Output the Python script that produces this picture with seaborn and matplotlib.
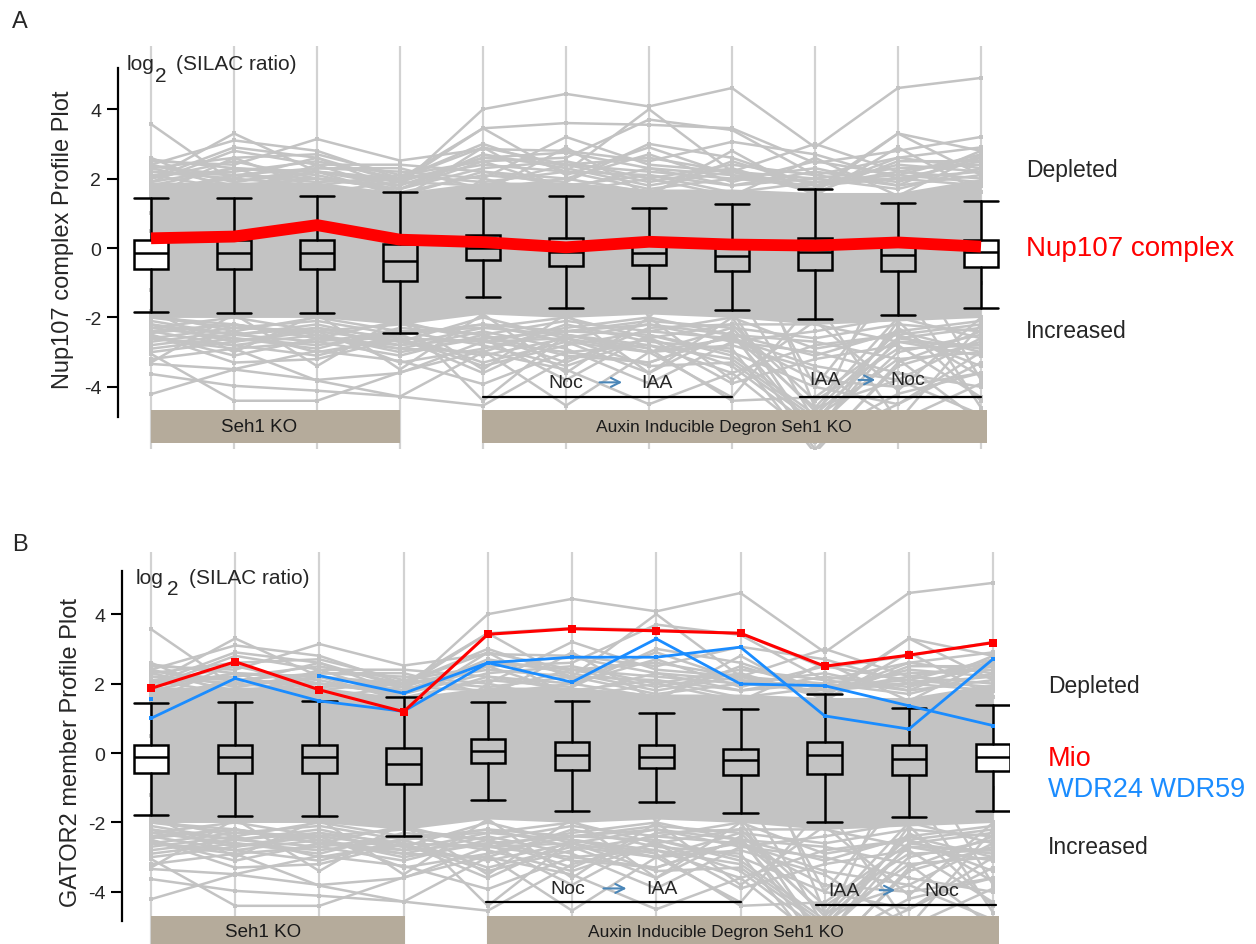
import numpy as np
import pandas as pd
import matplotlib
matplotlib.use("Agg")
import matplotlib.pyplot as plt
import seaborn as sns
from matplotlib.patches import Rectangle

# ---------------- data ----------------
conditions = ["Seh1 KO 1", "Seh1 KO 2", "Seh1 KO 3", "Seh1 KO 4",
              "AID Noc 1", "AID Noc 2", "AID IAA 1", "AID IAA 2",
              "AID IAA/Noc 1", "AID IAA/Noc 2", "AID IAA/Noc 3"]
cols = np.arange(len(conditions))

# dense core of the background profiles (envelope per condition)
band_hi = [1.9, 1.9, 1.9, 1.6, 1.9, 1.9, 1.7, 1.7, 1.6, 1.6, 2.0]
band_lo = [-2.0, -2.0, -2.0, -2.2, -1.9, -2.0, -1.9, -2.0, -2.2, -2.1, -2.0]

upper_profiles = [
    [2.2, 2.1, 2.0, 1.8, 4.0, 4.44, 4.08, 4.61, 2.9, 4.61, 4.9],
    [3.57, 1.9, 2.2, 2.0, 3.45, 3.6, 3.55, 3.45, 2.45, 2.8, 3.2],
    [2.0, 3.3, 2.2, 1.9, 2.6, 2.4, 2.2, 2.0, 1.8, 2.2, 2.6],
    [2.5, 2.4, 3.14, 2.52, 2.85, 2.8, 2.5, 3.06, 2.7, 2.0, 2.2],
    [2.4, 3.1, 2.8, 2.0, 3.0, 2.2, 4.0, 2.2, 1.6, 3.3, 2.8],
    [2.3, 2.6, 2.7, 2.1, 2.5, 2.6, 3.7, 3.4, 2.1, 2.6, 2.9],
    [2.1, 2.2, 2.5, 2.0, 2.9, 2.4, 2.6, 2.2, 3.0, 2.2, 2.0],
    [2.55, 2.3, 2.2, 1.8, 2.6, 2.75, 2.3, 2.1, 1.7, 3.3, 2.1],
    [1.9, 2.8, 2.4, 2.4, 2.2, 2.0, 2.7, 1.9, 2.5, 2.1, 2.7],
    [2.2, 2.0, 2.6, 1.9, 3.45, 2.1, 2.9, 2.1, 1.9, 2.0, 2.5],
    [2.0, 2.5, 2.0, 1.7, 2.3, 2.5, 2.0, 2.4, 2.1, 1.8, 2.8],
    [2.4, 1.9, 2.3, 2.2, 2.0, 3.2, 2.4, 2.2, 2.0, 2.3, 2.4],
    [1.8, 2.3, 2.1, 1.6, 2.1, 1.9, 3.0, 2.6, 1.8, 2.4, 2.2],
    [2.35, 2.1, 1.9, 2.0, 2.4, 2.2, 2.1, 1.8, 2.2, 1.9, 2.6],
    [2.0, 2.9, 2.6, 1.7, 2.7, 2.3, 1.8, 2.2, 1.7, 2.6, 2.3],
    [1.7, 2.0, 1.8, 2.1, 1.9, 2.2, 1.7, 2.0, 2.3, 1.8, 2.1],
    [2.1, 1.7, 2.2, 1.5, 2.2, 1.8, 2.1, 1.6, 1.9, 2.1, 1.9],
    [1.9, 2.3, 1.6, 1.9, 1.8, 2.4, 1.9, 2.3, 1.6, 2.5, 2.5],
    [2.3, 1.8, 2.0, 1.7, 2.5, 1.7, 2.3, 1.8, 2.0, 1.7, 2.3],
    [1.6, 2.1, 2.3, 2.3, 1.7, 2.0, 1.6, 2.5, 1.8, 2.0, 1.8],
    [1.5, 2.6, 1.7, 1.4, 2.9, 1.6, 2.0, 1.5, 2.6, 1.5, 2.7],
    [2.6, 1.6, 2.4, 1.6, 1.6, 2.9, 1.5, 2.8, 1.5, 2.9, 1.6],
]
lower_profiles = [
    [-4.21, -3.5, -3.8, -3.6, -2.7, -3.0, -2.8, -3.2, -4.9, -3.2, -3.0],
    [-3.63, -3.97, -4.11, -4.28, -3.0, -3.5, -4.5, -3.6, -5.5, -4.2, -3.6],
    [-3.34, -3.49, -2.96, -3.25, -3.92, -3.0, -3.3, -2.5, -4.6, -3.8, -4.8],
    [-3.05, -4.4, -4.4, -3.58, -2.96, -4.54, -3.0, -2.8, -3.5, -5.0, -3.9],
    [-2.6, -2.9, -3.82, -4.28, -4.54, -3.2, -2.6, -3.9, -3.2, -2.8, -4.3],
    [-2.9, -2.6, -2.8, -2.5, -3.3, -2.7, -3.6, -2.4, -5.8, -3.4, -2.7],
    [-2.4, -2.8, -2.5, -3.0, -2.6, -3.8, -2.5, -3.0, -4.0, -4.5, -3.3],
    [-2.7, -2.4, -3.0, -2.6, -3.6, -2.5, -2.9, -4.4, -4.3, -2.6, -2.9],
    [-2.5, -3.1, -2.6, -2.9, -2.4, -2.9, -3.9, -2.7, -3.0, -3.6, -4.0],
    [-2.8, -2.5, -2.7, -2.4, -2.8, -3.4, -2.6, -3.4, -5.2, -3.0, -2.5],
    [-3.0, -2.7, -2.4, -2.7, -3.1, -2.6, -3.0, -2.6, -3.8, -4.0, -3.6],
    [-2.3, -2.6, -2.9, -2.3, -2.5, -3.1, -3.3, -2.5, -2.7, -3.2, -5.0],
    [-2.6, -2.3, -2.4, -3.3, -2.9, -2.4, -2.5, -3.1, -4.8, -2.7, -3.1],
    [-2.2, -2.7, -2.3, -2.6, -3.4, -2.8, -2.4, -2.6, -3.4, -3.8, -2.6],
    [-2.45, -2.2, -2.6, -2.8, -2.3, -2.5, -2.8, -3.6, -2.8, -2.5, -3.4],
    [-2.0, -2.3, -2.1, -2.5, -2.2, -2.4, -2.1, -2.3, -2.6, -2.2, -2.4],
    [-2.3, -2.0, -2.4, -2.2, -2.5, -2.1, -2.4, -2.0, -2.9, -2.5, -2.2],
    [-2.1, -2.5, -2.2, -2.7, -2.0, -2.6, -2.2, -2.7, -2.4, -2.0, -2.6],
    [-2.4, -2.2, -2.6, -2.1, -2.7, -2.3, -2.0, -2.5, -3.1, -2.4, -2.1],
    [-1.9, -2.4, -2.0, -2.4, -2.3, -2.0, -2.6, -2.2, -2.2, -2.7, -2.8],
    [-2.2, -2.5, -2.3, -2.8, -2.6, -2.4, -2.2, -2.5, -5.3, -2.6, -2.3],
    [-2.6, -2.8, -3.1, -2.5, -2.2, -2.7, -3.0, -2.3, -4.7, -2.4, -3.0],
    [-2.0, -2.2, -2.5, -2.9, -3.0, -2.2, -2.7, -2.9, -5.9, -3.3, -2.4],
    [-3.2, -2.9, -2.7, -3.1, -2.5, -3.3, -2.3, -2.2, -4.4, -2.9, -2.8],
    [-2.5, -3.3, -3.2, -2.6, -2.7, -2.6, -3.4, -3.3, -5.0, -2.3, -3.7],
    [-1.8, -3.0, -1.9, -3.5, -1.9, -3.6, -2.0, -3.8, -2.1, -4.1, -2.0],
    [-3.3, -1.9, -3.4, -2.0, -3.5, -1.9, -3.6, -2.0, -5.4, -2.1, -4.4],
]
crossing_profiles = [
    [0.5, 0.2, -0.3, 0.1, 1.2, 0.8, 1.0, 1.4, -4.6, -2.0, -1.0],
    [-0.5, -1.0, 0.2, -0.6, -1.5, -2.0, -1.2, -1.8, -5.6, -4.5, -3.0],
    [1.0, 0.6, 0.8, 0.3, 2.0, 1.5, -2.0, 0.5, -4.0, -1.0, -4.6],
    [-1.2, -0.8, -1.5, -2.0, -4.4, -2.5, -3.0, -4.3, -1.5, -5.0, -2.2],
    [-0.2, 0.4, -0.8, 0.6, -0.4, 0.1, 0.9, -1.0, -5.0, 0.2, -3.8],
]

# box-plot statistics, panel A
a_whislo = [-1.84, -1.87, -1.87, -2.45, -1.40, -1.73, -1.45, -1.78, -2.05, -1.92, -1.73]
a_q1 = [-0.61, -0.61, -0.61, -0.94, -0.34, -0.53, -0.48, -0.65, -0.62, -0.66, -0.56]
a_med = [-0.15, -0.15, -0.15, -0.37, 0.00, -0.12, -0.14, -0.24, -0.11, -0.20, -0.11]
a_q3 = [0.24, 0.24, 0.24, 0.12, 0.38, 0.29, 0.09, 0.02, 0.29, 0.13, 0.22]
a_whishi = [1.43, 1.45, 1.49, 1.62, 1.45, 1.49, 1.15, 1.27, 1.70, 1.29, 1.36]
# box-plot statistics, panel B
b_whislo = [-1.78, -1.81, -1.81, -2.38, -1.35, -1.67, -1.42, -1.73, -2.00, -1.85, -1.68]
b_q1 = [-0.58, -0.58, -0.58, -0.89, -0.30, -0.49, -0.44, -0.62, -0.59, -0.62, -0.51]
b_med = [-0.12, -0.12, -0.12, -0.33, 0.05, -0.06, -0.12, -0.20, -0.07, -0.17, -0.10]
b_q3 = [0.24, 0.24, 0.24, 0.14, 0.40, 0.31, 0.22, 0.12, 0.33, 0.22, 0.26]
b_whishi = [1.45, 1.47, 1.49, 1.62, 1.47, 1.49, 1.16, 1.28, 1.70, 1.31, 1.39]

# highlighted profiles
nup107 = [0.28, 0.33, 0.66, 0.24, 0.17, 0.02, 0.18, 0.10, 0.07, 0.16, 0.04]
mio = [1.86, 2.63, 1.82, 1.19, 3.42, 3.58, 3.52, 3.45, 2.50, 2.82, 3.18]
wdr24 = [1.00, 2.15, 1.50, 1.20, 2.60, 2.76, 2.76, 3.05, 1.07, 0.69, 2.71]
wdr59 = [1.55, np.nan, 2.23, 1.72, 2.60, 2.04, 3.29, 1.99, 1.94, 1.36, 0.79]

# ---------------- style ----------------
sns.set_style("white")
plt.rcParams["font.family"] = ["Liberation Sans", "DejaVu Sans"]
plt.rcParams["axes.unicode_minus"] = False

W, H = 1256, 945
fig = plt.figure(figsize=(W / 100, H / 100), dpi=100)

GRAY = "#c3c3c3"
VGRAY = "#d2d2d2"
TAN = "#b5ab9b"
BLUE = "#1a8cff"
ARROW = "#4a86b8"


def px_axes(l, t, r, b):
    return fig.add_axes([l / W, 1 - b / H, (r - l) / W, (b - t) / H])


def long_frame(profiles):
    rows = []
    for pid, prof in enumerate(profiles):
        seg = 0
        for c, v in zip(cols, prof):
            if np.isnan(v):
                seg += 1
                continue
            rows.append((f"{pid}_{seg}", c, v))
    return pd.DataFrame(rows, columns=["unit", "col", "val"])


gray_df = long_frame(upper_profiles + lower_profiles + crossing_profiles)


def draw_panel(ax, xlim, ylim, spine_bounds, stats):
    ax.set_xlim(*xlim)
    ax.set_ylim(*ylim)
    for c in cols:
        ax.axvline(c, color=VGRAY, lw=1.6, zorder=0.5)
    ax.fill_between(cols, band_lo, band_hi, color=GRAY, lw=0, zorder=1)
    sns.lineplot(data=gray_df, x="col", y="val", units="unit", estimator=None,
                 color=GRAY, lw=1.8, marker="s", markersize=3.5,
                 markeredgewidth=0, ax=ax, zorder=2, legend=False)
    whislo, q1, med, q3, whishi = stats
    bstats = [dict(whislo=a, q1=b, med=c, q3=d, whishi=e, fliers=[])
              for a, b, c, d, e in zip(whislo, q1, med, q3, whishi)]
    res = ax.bxp(bstats, positions=cols, widths=0.41, capwidths=0.41,
                 showfliers=False, patch_artist=True, manage_ticks=False,
                 boxprops=dict(facecolor="none", edgecolor="black", lw=1.8),
                 whiskerprops=dict(color="black", lw=1.8),
                 capprops=dict(color="black", lw=1.8),
                 medianprops=dict(color="black", lw=1.8), zorder=3)
    res["boxes"][0].set_facecolor("white")
    res["boxes"][-1].set_facecolor("white")
    for s in ["top", "right", "bottom"]:
        ax.spines[s].set_visible(False)
    ax.spines["left"].set_bounds(*spine_bounds)
    ax.spines["left"].set_linewidth(1.6)
    ax.spines["left"].set_color("black")
    ax.set_yticks([-4, -2, 0, 2, 4])
    ax.set_yticklabels(["-4", "-2", "0", "2", "4"])
    ax.set_xticks([])
    ax.tick_params(axis="y", left=True, length=8, width=1.5, direction="out",
                   labelsize=14, pad=4, color="black")
    ax.set_xlabel("")
    ax.set_ylabel("")
    ax.patch.set_alpha(0)


def annotate_groups(ax, seh_w, aux_r, seh_tx, aux_tx, y_box, noc_iaa, iaa_noc):
    ax.add_patch(Rectangle((0, y_box[0]), seh_w, y_box[1] - y_box[0], color=TAN, lw=0, zorder=4))
    ax.add_patch(Rectangle((3.99, y_box[0]), aux_r - 3.99, y_box[1] - y_box[0], color=TAN, lw=0, zorder=4))
    ym = -5.13
    ax.text(seh_tx, ym, "Seh1 KO", ha="center", va="center", fontsize=13.5, zorder=6, color="#1a1a1a")
    ax.text(aux_tx, ym, "Auxin Inducible Degron Seh1 KO", ha="center", va="center",
            fontsize=12.5, zorder=6, color="#1a1a1a")
    for (t1x, a0, a1, t2x, ty, l0, l1, ly, t1, t2) in [noc_iaa, iaa_noc]:
        ax.text(t1x, ty, t1, ha="center", va="center", fontsize=14, zorder=6)
        ax.text(t2x, ty, t2, ha="center", va="center", fontsize=14, zorder=6)
        ax.annotate("", xy=(a1, ty), xytext=(a0, ty),
                    arrowprops=dict(arrowstyle="->", color=ARROW, lw=1.5, mutation_scale=16),
                    zorder=6)
        ax.plot([l0, l1], [ly, ly], color="black", lw=1.6, zorder=6)


# ---------------- panel A ----------------
axA = px_axes(118, 47, 1000, 450)
draw_panel(axA, (-0.398, 10.229), (-5.79, 5.82), (-4.86, 5.2),
           (a_whislo, a_q1, a_med, a_q3, a_whishi))
annotate_groups(axA, 3.0, 10.07, 1.30, 6.9, (-5.63, -4.66),
                (5.0, 5.37, 5.71, 6.1, -3.87, 4.0, 7.0, -4.28, "Noc", "IAA"),
                (8.12, 8.49, 8.76, 9.12, -3.80, 7.82, 10.0, -4.28, "IAA", "Noc"))
sns.lineplot(x=cols, y=nup107, color="#ff0000", lw=8.5, ax=axA, zorder=5,
             legend=False, solid_joinstyle="round", solid_capstyle="butt")

# ---------------- panel B ----------------
axB = px_axes(122, 553, 1010, 945)
draw_panel(axB, (-0.344, 10.2), (-5.50, 5.79), (-4.83, 5.24),
           (b_whislo, b_q1, b_med, b_q3, b_whishi))
annotate_groups(axB, 3.02, 10.07, 1.33, 6.71, (-5.6, -4.69),
                (4.95, 5.34, 5.68, 6.07, -3.90, 3.98, 7.0, -4.28, "Noc", "IAA"),
                (8.23, 8.62, 8.87, 9.39, -3.95, 7.9, 10.03, -4.37, "IAA", "Noc"))
for prof, colr, lw, ms in [(wdr24, BLUE, 2.0, 3.5), (wdr59, BLUE, 2.0, 3.5), (mio, "#ff0000", 2.2, 6)]:
    dfp = long_frame([prof])
    sns.lineplot(data=dfp, x="col", y="val", units="unit", estimator=None,
                 color=colr, lw=lw, marker="s", markersize=ms, markeredgewidth=0,
                 ax=axB, zorder=5, legend=False)
axB.set_xlabel("")
axB.set_ylabel("")
axA.set_xlabel("")
axA.set_ylabel("")


# ---------------- texts ----------------
def ftext(x, y, s, **kw):
    fig.text(x / W, 1 - y / H, s, **kw)


ftext(20, 22, "A", ha="center", va="center", fontsize=17)
ftext(20, 545, "B", ha="center", va="center", fontsize=17)

ftext(127, 65, "log", ha="left", va="center", fontsize=15)
ftext(161, 76, "2", ha="center", va="center", fontsize=15)
ftext(176, 65, "(SILAC ratio)", ha="left", va="center", fontsize=15)
ftext(136, 579, "log", ha="left", va="center", fontsize=15)
ftext(173, 590, "2", ha="center", va="center", fontsize=15)
ftext(189, 579, "(SILAC ratio)", ha="left", va="center", fontsize=15)

ftext(63, 240, "Nup107 complex Profile Plot", rotation=90, ha="center", va="center", fontsize=17)
ftext(71, 753, "GATOR2 member Profile Plot", rotation=90, ha="center", va="center", fontsize=17)

ftext(1026, 171, "Depleted", ha="left", va="center", fontsize=16.5)
ftext(1026, 249, "Nup107 complex", ha="left", va="center", fontsize=20, color="#ff0000")
ftext(1026, 332, "Increased", ha="left", va="center", fontsize=16.5)

ftext(1048, 687, "Depleted", ha="left", va="center", fontsize=16.5)
ftext(1048, 759, "Mio", ha="left", va="center", fontsize=19.5, color="#ff0000")
ftext(1048, 790, "WDR24 WDR59", ha="left", va="center", fontsize=19.5, color=BLUE)
ftext(1048, 848, "Increased", ha="left", va="center", fontsize=16.5)

fig.savefig("out.png", dpi=100)
